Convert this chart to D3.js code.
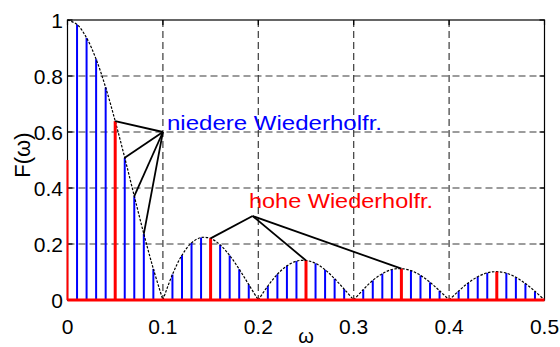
<!DOCTYPE html>
<html>
<head>
<meta charset="utf-8">
<script src="https://cdn.jsdelivr.net/npm/d3@7"></script>
<style>
  html, body { margin: 0; padding: 0; background: #fff; }
  svg { display: block; font-family: "Liberation Sans", Arial, sans-serif; }
</style>
</head>
<body>
<svg id="chart" width="560" height="347"></svg>
<script>
// Spectrum samples at 0.01 spacing (blue stems + dashed envelope)
const omega = [0.00,0.01,0.02,0.03,0.04,0.05,0.06,0.07,0.08,0.09,
               0.10,0.11,0.12,0.13,0.14,0.15,0.16,0.17,0.18,0.19,
               0.20,0.21,0.22,0.23,0.24,0.25,0.26,0.27,0.28,0.29,
               0.30,0.31,0.32,0.33,0.34,0.35,0.36,0.37,0.38,0.39,
               0.40,0.41,0.42,0.43,0.44,0.45,0.46,0.47,0.48,0.49,0.50];
const F = [1.000,0.984,0.936,0.860,0.759,0.639,0.508,0.371,0.236,0.111,
           0.000,0.091,0.160,0.204,0.223,0.220,0.197,0.159,0.110,0.055,
           0.000,0.050,0.092,0.122,0.139,0.141,0.131,0.108,0.076,0.039,
           0.000,0.037,0.070,0.094,0.109,0.112,0.105,0.088,0.063,0.033,
           0.000,0.032,0.061,0.083,0.097,0.101,0.096,0.081,0.059,0.031,0.000];

// Highlighted (red) lines
const redOmega = [0.00, 0.05, 0.15, 0.25, 0.35, 0.45];
const redValue = [0.50, 0.639, 0.220, 0.141, 0.112, 0.101];

// Zeros of the envelope split it into lobes
const lobeEdges = [0.0, 0.1, 0.2, 0.3, 0.4, 0.5];

// Tick labels
const xTicks = [0, 0.1, 0.2, 0.3, 0.4, 0.5];
const xTickLabels = ["0", "0.1", "0.2", "0.3", "0.4", "0.5"];
const yTicks = [0, 0.2, 0.4, 0.6, 0.8, 1];
const yTickLabels = ["0", "0.2", "0.4", "0.6", "0.8", "1"];

// Annotations
const lowLabel = "niedere Wiederholfr.";
const lowHub = [0.1, 0.6];
const lowTargets = [0.05, 0.06, 0.07, 0.08];
const highLabel = "hohe Wiederholfr.";
const highHub = [0.194, 0.30];
const highTargets = [0.15, 0.25, 0.35];

const svg = d3.select("#chart");
const L = 67.5, R = 544.5, T = 20, B = 300;
const x = d3.scaleLinear().domain([0, 0.5]).range([L, R]);
const y = d3.scaleLinear().domain([0, 1]).range([B, T]);
const fAt = w => F[omega.findIndex(o => Math.abs(o - w) < 1e-9)];

// grid
const grid = svg.append("g").attr("stroke", "#3a3a3a").attr("stroke-width", 1.2)
  .attr("stroke-dasharray", "7,4").attr("fill", "none");
xTicks.slice(1, -1).forEach(t => grid.append("line")
  .attr("x1", x(t)).attr("x2", x(t)).attr("y1", T).attr("y2", B));
yTicks.slice(1, -1).forEach(t => grid.append("line")
  .attr("x1", L).attr("x2", R).attr("y1", y(t)).attr("y2", y(t)));

// blue stems
svg.append("g").selectAll("line")
  .data(omega.map((w, i) => ({ w, v: F[i] })).filter(d => d.v > 0 && !redOmega.some(r => Math.abs(r - d.w) < 1e-9)))
  .join("line")
  .attr("x1", d => x(d.w)).attr("x2", d => x(d.w))
  .attr("y1", y(0)).attr("y2", d => y(d.v))
  .attr("stroke", "#0000ff").attr("stroke-width", 2);

// dashed envelope, one lobe at a time so the zeros stay sharp
const env = d3.line().x(d => x(d.w)).y(d => y(d.v)).curve(d3.curveCatmullRom.alpha(0.5));
for (let k = 0; k < lobeEdges.length - 1; k++) {
  const pts = omega.map((w, i) => ({ w, v: F[i] }))
    .filter(d => d.w >= lobeEdges[k] - 1e-9 && d.w <= lobeEdges[k + 1] + 1e-9);
  svg.append("path").attr("d", env(pts)).attr("fill", "none")
    .attr("stroke", "#000").attr("stroke-width", 1.2).attr("stroke-dasharray", "2.5,1.5");
}

// red stems
svg.append("g").selectAll("line")
  .data(redOmega.map((w, i) => ({ w, v: redValue[i] })).filter(d => d.w > 0))
  .join("line")
  .attr("x1", d => x(d.w)).attr("x2", d => x(d.w))
  .attr("y1", y(0)).attr("y2", d => y(d.v))
  .attr("stroke", "#ff0000").attr("stroke-width", 3);

// annotation leaders
const ann = svg.append("g").attr("stroke", "#000").attr("stroke-width", 1.8);
lowTargets.forEach(w => ann.append("line")
  .attr("x1", x(lowHub[0])).attr("y1", y(lowHub[1])).attr("x2", x(w)).attr("y2", y(fAt(w))));
highTargets.forEach(w => ann.append("line")
  .attr("x1", x(highHub[0])).attr("y1", y(highHub[1])).attr("x2", x(w)).attr("y2", y(fAt(w))));

svg.append("text").attr("x", 167).attr("y", 130).attr("fill", "#0000ff")
  .attr("font-size", 21).attr("textLength", 215).attr("lengthAdjust", "spacingAndGlyphs")
  .text(lowLabel);
svg.append("text").attr("x", 249).attr("y", 208).attr("fill", "#ff0000")
  .attr("font-size", 21).attr("textLength", 184).attr("lengthAdjust", "spacingAndGlyphs")
  .text(highLabel);

// axes box
svg.append("rect").attr("x", L).attr("y", T).attr("width", R - L).attr("height", B - T)
  .attr("fill", "none").attr("stroke", "#000").attr("stroke-width", 1.2);

// inward ticks
const ticks = svg.append("g").attr("stroke", "#000").attr("stroke-width", 1.2);
xTicks.forEach(t => {
  ticks.append("line").attr("x1", x(t)).attr("x2", x(t)).attr("y1", T).attr("y2", T + 5);
});
yTicks.forEach(t => {
  ticks.append("line").attr("x1", L).attr("x2", L + 5).attr("y1", y(t)).attr("y2", y(t));
  ticks.append("line").attr("x1", R).attr("x2", R - 5).attr("y1", y(t)).attr("y2", y(t));
});

// red baseline and the half-height line at zero, on top of the box edge
svg.append("line").attr("x1", x(0)).attr("x2", x(0.5)).attr("y1", y(0)).attr("y2", y(0))
  .attr("stroke", "#ff0000").attr("stroke-width", 3);
svg.append("line").attr("x1", x(0)).attr("x2", x(0)).attr("y1", y(0)).attr("y2", y(redValue[0]))
  .attr("stroke", "#ff0000").attr("stroke-width", 2);

// tick labels
svg.append("g").selectAll("text").data(xTicks).join("text")
  .attr("x", d => x(d)).attr("y", 334).attr("text-anchor", "middle")
  .attr("font-size", 21).attr("fill", "#000").text((d, i) => xTickLabels[i]);
svg.append("g").selectAll("text").data(yTicks).join("text")
  .attr("x", 63).attr("y", d => y(d) + 7.5).attr("text-anchor", "end")
  .attr("font-size", 21).attr("fill", "#000").text((d, i) => yTickLabels[i]);

// axis titles
svg.append("text").attr("x", 306).attr("y", 343).attr("text-anchor", "middle")
  .attr("font-size", 20).text("ω");
svg.append("text").attr("transform", "translate(30,155) rotate(-90)")
  .attr("text-anchor", "middle").attr("font-size", 22).text("F(ω)");
</script>
</body>
</html>
